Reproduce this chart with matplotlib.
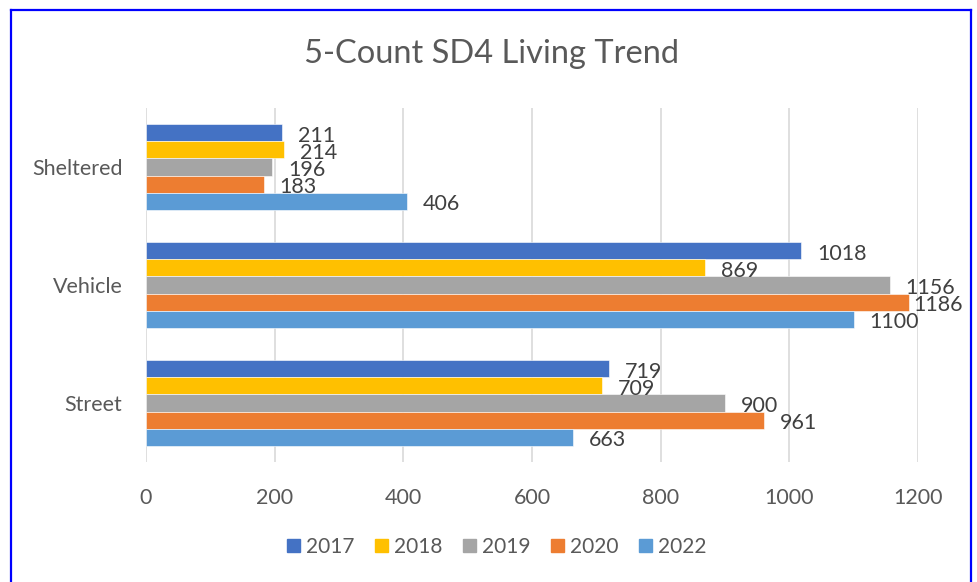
import matplotlib
matplotlib.use("Agg")
import matplotlib.pyplot as plt
from matplotlib.lines import Line2D
import numpy as np

plt.rcParams['font.family'] = ['Lato', 'DejaVu Sans']

categories = ["Street", "Vehicle", "Sheltered"]
years = ["2017", "2018", "2019", "2020", "2022"]
values = {
    "2017": [719, 1018, 211],
    "2018": [709, 869, 214],
    "2019": [900, 1156, 196],
    "2020": [961, 1186, 183],
    "2022": [663, 1100, 406],
}
colors = ["#4472C4", "#FFC000", "#A5A5A5", "#ED7D31", "#5B9BD5"]
xticks = [0, 200, 400, 600, 800, 1000, 1200]

fig = plt.figure(figsize=(9.78, 5.82), dpi=100)
W, H = 978, 582
ax = fig.add_axes([146 / W, 1 - 462 / H, (918 - 146) / W, (462 - 108) / H])

n = len(years)
group = 0.73
bh = group / n
y = np.arange(len(categories))
labels = []
for i, (yr, c) in enumerate(zip(years, colors)):
    off = group / 2 - bh * (i + 0.5)
    bars = ax.barh(y + off, values[yr], height=bh, color=c, edgecolor="white",
                   linewidth=0.4, label=yr, zorder=3)
    for b, v in zip(bars, values[yr]):
        t = ax.annotate(str(v), (v, b.get_y() + b.get_height() / 2),
                        xytext=(16, -3), textcoords="offset pixels",
                        ha="left", va="center", fontsize=15.5, color="#404040", zorder=4)
        labels.append(t)

ax.set_xlim(0, 1200)
ax.set_ylim(-0.5, len(categories) - 0.5)
ax.set_xticks(xticks)
ax.set_xticklabels([str(t) for t in xticks])
ax.set_yticks(y)
ax.set_yticklabels(categories)
ax.tick_params(axis="both", length=0, labelsize=15.5, colors="#595959")
ax.tick_params(axis="x", pad=19)
ax.tick_params(axis="y", pad=17)
ax.grid(axis="x", color="#D9D9D9", linewidth=1.2, zorder=0)
for s in ax.spines.values():
    s.set_visible(False)

fig.text(492 / W, 1 - 54 / H, "5-Count SD4 Living Trend", ha="center", va="center",
         fontsize=23.5, color="#595959")

handles = [plt.Rectangle((0, 0), 1, 1, color=c) for c in colors]
fig.legend(handles, years, loc="center", bbox_to_anchor=(497 / W, 1 - 547 / H),
           ncol=5, frameon=False, fontsize=15, labelcolor="#595959",
           handlelength=0.6, handleheight=0.6, handletextpad=0.3, columnspacing=1.0)

# keep data labels inside the chart border, as the chart tool does
fig.canvas.draw()
renderer = fig.canvas.get_renderer()
limit = 963
for t in labels:
    bb = t.get_window_extent(renderer)
    if bb.x1 > limit:
        dx, dy = t.xyann
        t.xyann = (dx - (bb.x1 - limit), dy)

# blue chart border (bottom edge lies below the image)
bc = "#0000FF"
fig.add_artist(Line2D([11.5 / W, 11.5 / W], [0, 1 - 9.5 / H], transform=fig.transFigure, color=bc, lw=1.6))
fig.add_artist(Line2D([971.5 / W, 971.5 / W], [0, 1 - 9.5 / H], transform=fig.transFigure, color=bc, lw=1.6))
fig.add_artist(Line2D([11.5 / W, 971.5 / W], [1 - 9.5 / H, 1 - 9.5 / H], transform=fig.transFigure, color=bc, lw=1.6))

fig.savefig("out.png", dpi=100)
